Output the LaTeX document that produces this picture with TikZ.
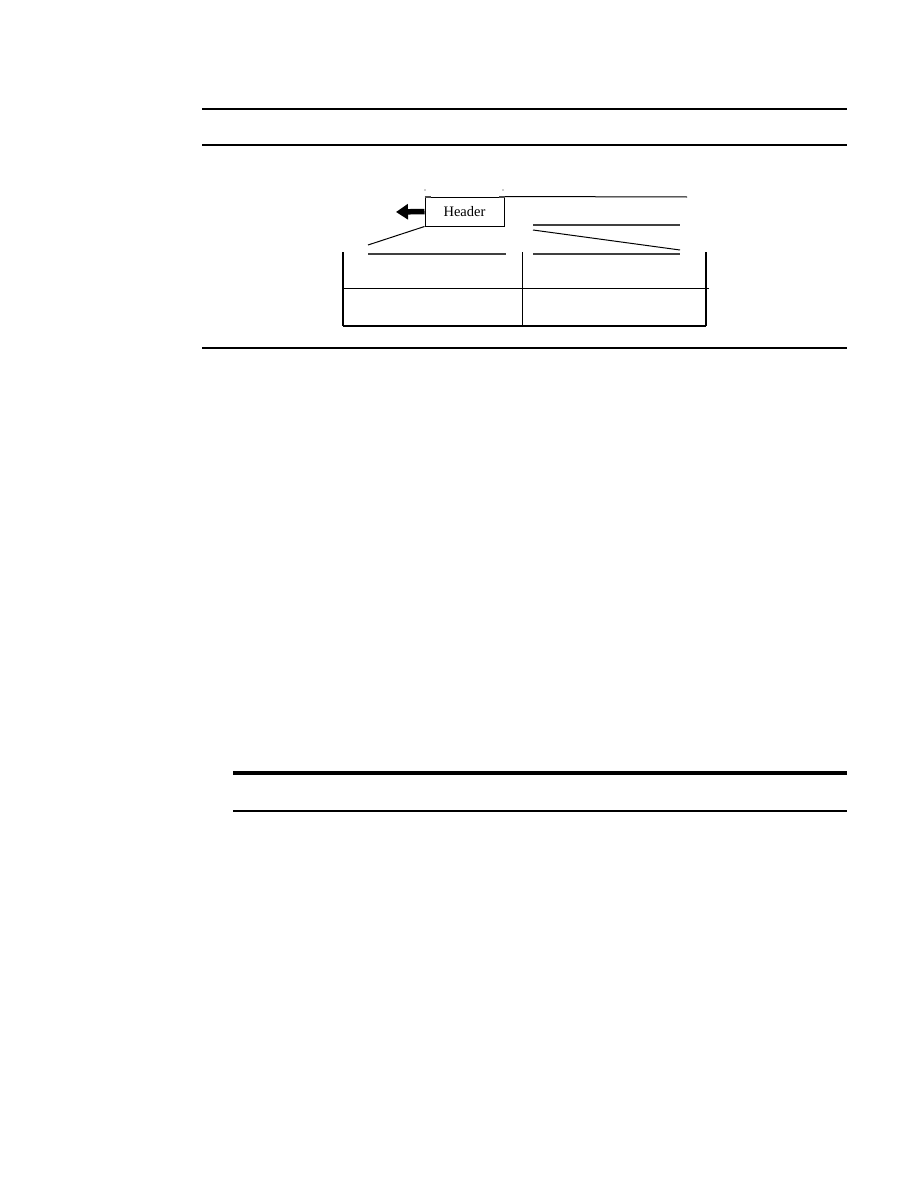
\documentclass[tikz,border=0pt]{standalone}
\usepackage{fontspec}
\setmainfont{Liberation Serif}
\usetikzlibrary{arrows.meta}
\begin{document}
\begin{tikzpicture}[x=1pt,y=-1pt,
  rule/.style={line width=1.3pt,black},
  thinline/.style={line width=1pt,black},
  greyline/.style={line width=1.3pt,black!75},
  tableedge/.style={line width=2.8pt,black},
  hdrbox/.style={draw,line width=1pt,minimum width=79pt,minimum height=29pt,inner sep=0pt,font=\fontsize{14.5}{16}\selectfont},
  bigarrow/.style={line width=5.5pt,-{Triangle[length=12pt,width=15pt]}}
]
\useasboundingbox (0,0) rectangle (918,1188);
% page rules
\coordinate (r1a) at (202,109); \coordinate (r1b) at (847,109);
\coordinate (r2a) at (202,145); \coordinate (r2b) at (847,145);
\coordinate (r3a) at (202,348); \coordinate (r3b) at (847,348);
\draw[rule] (r1a) -- (r1b);
\draw[rule] (r2a) -- (r2b);
\draw[rule] (r3a) -- (r3b);
\coordinate (r4a) at (233,773); \coordinate (r4b) at (847,773);
\coordinate (r5a) at (233,811); \coordinate (r5b) at (847,811);
\draw[line width=3.6pt] (r4a) -- (r4b);
\draw[line width=1.9pt] (r5a) -- (r5b);
% header box
\node[hdrbox] (hdr) at (464.5,211.5) {Header};
\coordinate (tl) at (687,197);
\draw[thinline] (hdr.north east) -- (tl);
\draw[line width=2pt,black!70] (hdr.north west) -- ++(6,0);
\draw[line width=2pt,black!70] (hdr.north east) -- ++(-6,0);
\coordinate (tk1) at (425,190); \coordinate (tk2) at (503,190);
\fill[black!40] (tk1) circle (0.8);
\fill[black!40] (tk2) circle (0.8);
\coordinate (arrtip) at (396,212);
\draw[bigarrow] (hdr.west) -- (arrtip);
% left slanted lead
\coordinate (l1) at (368,245);
\coordinate (l2a) at (368,254); \coordinate (l2b) at (506,254);
\draw[thinline] (hdr.south west) -- (l1);
\draw[greyline] (l2a) -- (l2b);
% right lines
\coordinate (ra1) at (533,225); \coordinate (ra2) at (680,225);
\coordinate (rb1) at (533,230); \coordinate (rb2) at (680,250);
\coordinate (rc1) at (533,254); \coordinate (rc2) at (680,254);
\draw[greyline] (ra1) -- (ra2);
\draw[thinline] (rb1) -- (rb2);
\draw[greyline] (rc1) -- (rc2);
% table
\coordinate (tA) at (343,252); \coordinate (tB) at (343,326);
\coordinate (tC) at (706,252); \coordinate (tD) at (706,326);
\coordinate (tM1) at (522,252); \coordinate (tM2) at (522,326);
\coordinate (tH1) at (343,288); \coordinate (tH2) at (709,288);
\draw[tableedge] (tA) -- (tB);
\draw[tableedge] (tC) -- (tD);
\draw[tableedge] (tB) -- (tD);
\draw[thinline] (tM1) -- (tM2);
\draw[thinline] (tH1) -- (tH2);
\end{tikzpicture}
\end{document}
